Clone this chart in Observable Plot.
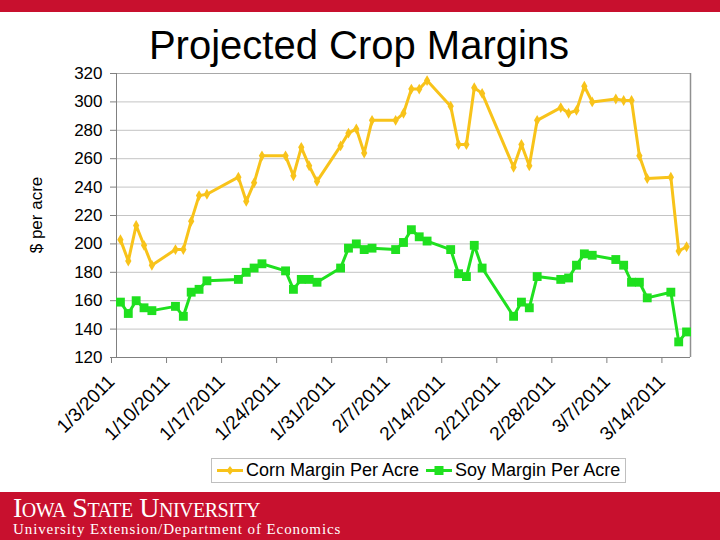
<!DOCTYPE html>
<html><head><meta charset="utf-8">
<script src="https://cdn.jsdelivr.net/npm/d3@7"></script>
<script src="https://cdn.jsdelivr.net/npm/@observablehq/plot@0.6"></script>
<style>
body{margin:0;background:#fff;}
#page{position:relative;width:720px;height:540px;overflow:hidden;font-family:"Liberation Sans",Arial,sans-serif;background:#fff;}
#topbar{position:absolute;left:0;top:0;width:720px;height:12px;background:#c8102e;}
#title{position:absolute;left:0;top:22px;width:718px;text-align:center;font-size:40px;line-height:46px;color:#000;}
#ylabel{position:absolute;left:37px;top:215px;width:120px;margin-left:-60px;text-align:center;font-size:17px;line-height:20px;transform:translateY(-10px) rotate(-90deg);color:#000;}
#chart{position:absolute;left:0;top:60px;}
#legend{position:absolute;left:211px;top:458px;width:413px;height:23px;border:1px solid #bfbfbf;font-size:18px;line-height:23px;white-space:nowrap;}
#legend span.item{display:inline-block;vertical-align:top;}
#legend svg{vertical-align:top;}
#footer{position:absolute;left:0;top:492px;width:720px;height:48px;background:#c8102e;color:#fff;font-family:"Liberation Serif","Times New Roman",serif;}
#footer .isu{position:absolute;left:13px;top:1px;font-size:28px;line-height:30px;font-variant:small-caps;letter-spacing:-0.5px;}
#footer .dept{position:absolute;left:13px;top:29px;font-size:15px;line-height:17px;letter-spacing:0.9px;}
</style></head><body>
<div id="page">
  <div id="topbar"></div>
  <div id="title">Projected Crop Margins</div>
  <div id="ylabel">$ per acre</div>
  <div id="chart"></div>
  <div id="legend"></div>
  <div id="footer"><div class="isu">Iowa State University</div><div class="dept">University Extension/Department of Economics</div></div>
</div>
<script>
const dates = [
  "2011-01-03","2011-01-04","2011-01-05","2011-01-06","2011-01-07",
  "2011-01-10","2011-01-11","2011-01-12","2011-01-13","2011-01-14",
  "2011-01-18","2011-01-19","2011-01-20","2011-01-21",
  "2011-01-24","2011-01-25","2011-01-26","2011-01-27","2011-01-28",
  "2011-01-31","2011-02-01","2011-02-02","2011-02-03","2011-02-04",
  "2011-02-07","2011-02-08","2011-02-09","2011-02-10","2011-02-11",
  "2011-02-14","2011-02-15","2011-02-16","2011-02-17","2011-02-18",
  "2011-02-22","2011-02-23","2011-02-24","2011-02-25",
  "2011-02-28","2011-03-01","2011-03-02","2011-03-03","2011-03-04",
  "2011-03-07","2011-03-08","2011-03-09","2011-03-10","2011-03-11",
  "2011-03-14","2011-03-15","2011-03-16"
];
const corn = [
  203,188,213,199,185,
  196,196,216,234,235,
  247,230,243,262,
  262,248,268,255,244,
  269,278,281,264,287,
  287,292,309,309,315,
  297,270,270,310,306,
  254,270,255,287,
  296,292,294,311,300,
  302,301,301,262,246,
  247,195,198
];
const soy = [
  159,151,160,155,153,
  156,149,166,168,174,
  175,180,183,186,
  181,168,175,175,173,
  183,197,200,196,197,
  196,201,210,205,202,
  196,179,177,199,183,
  149,159,155,177,
  175,176,185,193,192,
  189,185,173,173,162,
  166,131,138
];
const tickDates = ["2011-01-03","2011-01-10","2011-01-17","2011-01-24","2011-01-31","2011-02-07","2011-02-14","2011-02-21","2011-02-28","2011-03-07","2011-03-14"];
const tickLabels = ["1/3/2011","1/10/2011","1/17/2011","1/24/2011","1/31/2011","2/7/2011","2/14/2011","2/21/2011","2/28/2011","3/7/2011","3/14/2011"];
const yTicks = [120,140,160,180,200,220,240,260,280,300,320];
const seriesNames = ["Corn Margin Per Acre","Soy Margin Per Acre"];
const cornColor = "#f8c31a", soyColor = "#1fe01f";

// each trading day drawn at the middle of its day slot
const data = dates.map((d, i) => ({date: new Date(d + "T12:00:00Z"), corn: corn[i], soy: soy[i]}));
const x0 = new Date("2011-01-03T00:00:00Z"), x1 = new Date("2011-03-17T00:00:00Z");
const tickDateObjs = tickDates.map(d => new Date(d + "T00:00:00Z"));

const chart = Plot.plot({
  width: 720, height: 390,
  marginTop: 13, marginBottom: 93, marginLeft: 116, marginRight: 30,
  style: {fontFamily: "'Liberation Sans', Arial, sans-serif", fontSize: "17px", color: "#000", background: "transparent", overflow: "visible"},
  x: {type: "utc", domain: [x0, x1]},
  y: {domain: [120, 320]},
  marks: [
    Plot.gridY(yTicks.filter(v => v > 120 && v < 320), {stroke: "#c4c4c4", strokeOpacity: 1, strokeWidth: 1}),
    Plot.ruleY([320], {stroke: "#a8a8a8"}),
    Plot.ruleX([x1], {stroke: "#909090", strokeWidth: 1.5}),
    Plot.ruleX([x0], {stroke: "#808080"}),
    Plot.ruleY([120], {stroke: "#808080"}),
    Plot.axisY({ticks: yTicks, tickSize: 6, tickPadding: 8, label: null, stroke: "#808080", fill: "#000", fontSize: 17}),
    Plot.axisX({ticks: tickDateObjs, tickFormat: (d, i) => tickLabels[i], tickRotate: -45, tickSize: 6, tickPadding: 15, dx: -5, label: null, stroke: "#808080", fill: "#000", fontSize: 19}),
    Plot.line(data, {x: "date", y: "corn", stroke: cornColor, strokeWidth: 3}),
    Plot.dot(data, {x: "date", y: "corn", symbol: "diamond", r: 3.3, fill: cornColor, stroke: null}),
    Plot.line(data, {x: "date", y: "soy", stroke: soyColor, strokeWidth: 3}),
    Plot.dot(data, {x: "date", y: "soy", symbol: "square", r: 5, fill: soyColor, stroke: null})
  ]
});
document.getElementById("chart").appendChild(chart);

// legend
const leg = document.getElementById("legend");
function sample(color, shape) {
  const marker = shape === "diamond"
    ? `<path d="M14,7 L17.5,11.5 L14,16 L10.5,11.5 Z" fill="${color}"/>`
    : `<rect x="9.5" y="7" width="9" height="9" fill="${color}"/>`;
  return `<svg width="28" height="23"><line x1="1" x2="27" y1="11.5" y2="11.5" stroke="${color}" stroke-width="3"/>${marker}</svg>`;
}
leg.innerHTML =
  `<span class="item" style="margin-left:4px">${sample(cornColor,"diamond")}</span><span class="item" style="margin-left:2px">${seriesNames[0]}</span>` +
  `<span class="item" style="margin-left:6px">${sample(soyColor,"square")}</span><span class="item" style="margin-left:2px">${seriesNames[1]}</span>`;
</script>
</body></html>
